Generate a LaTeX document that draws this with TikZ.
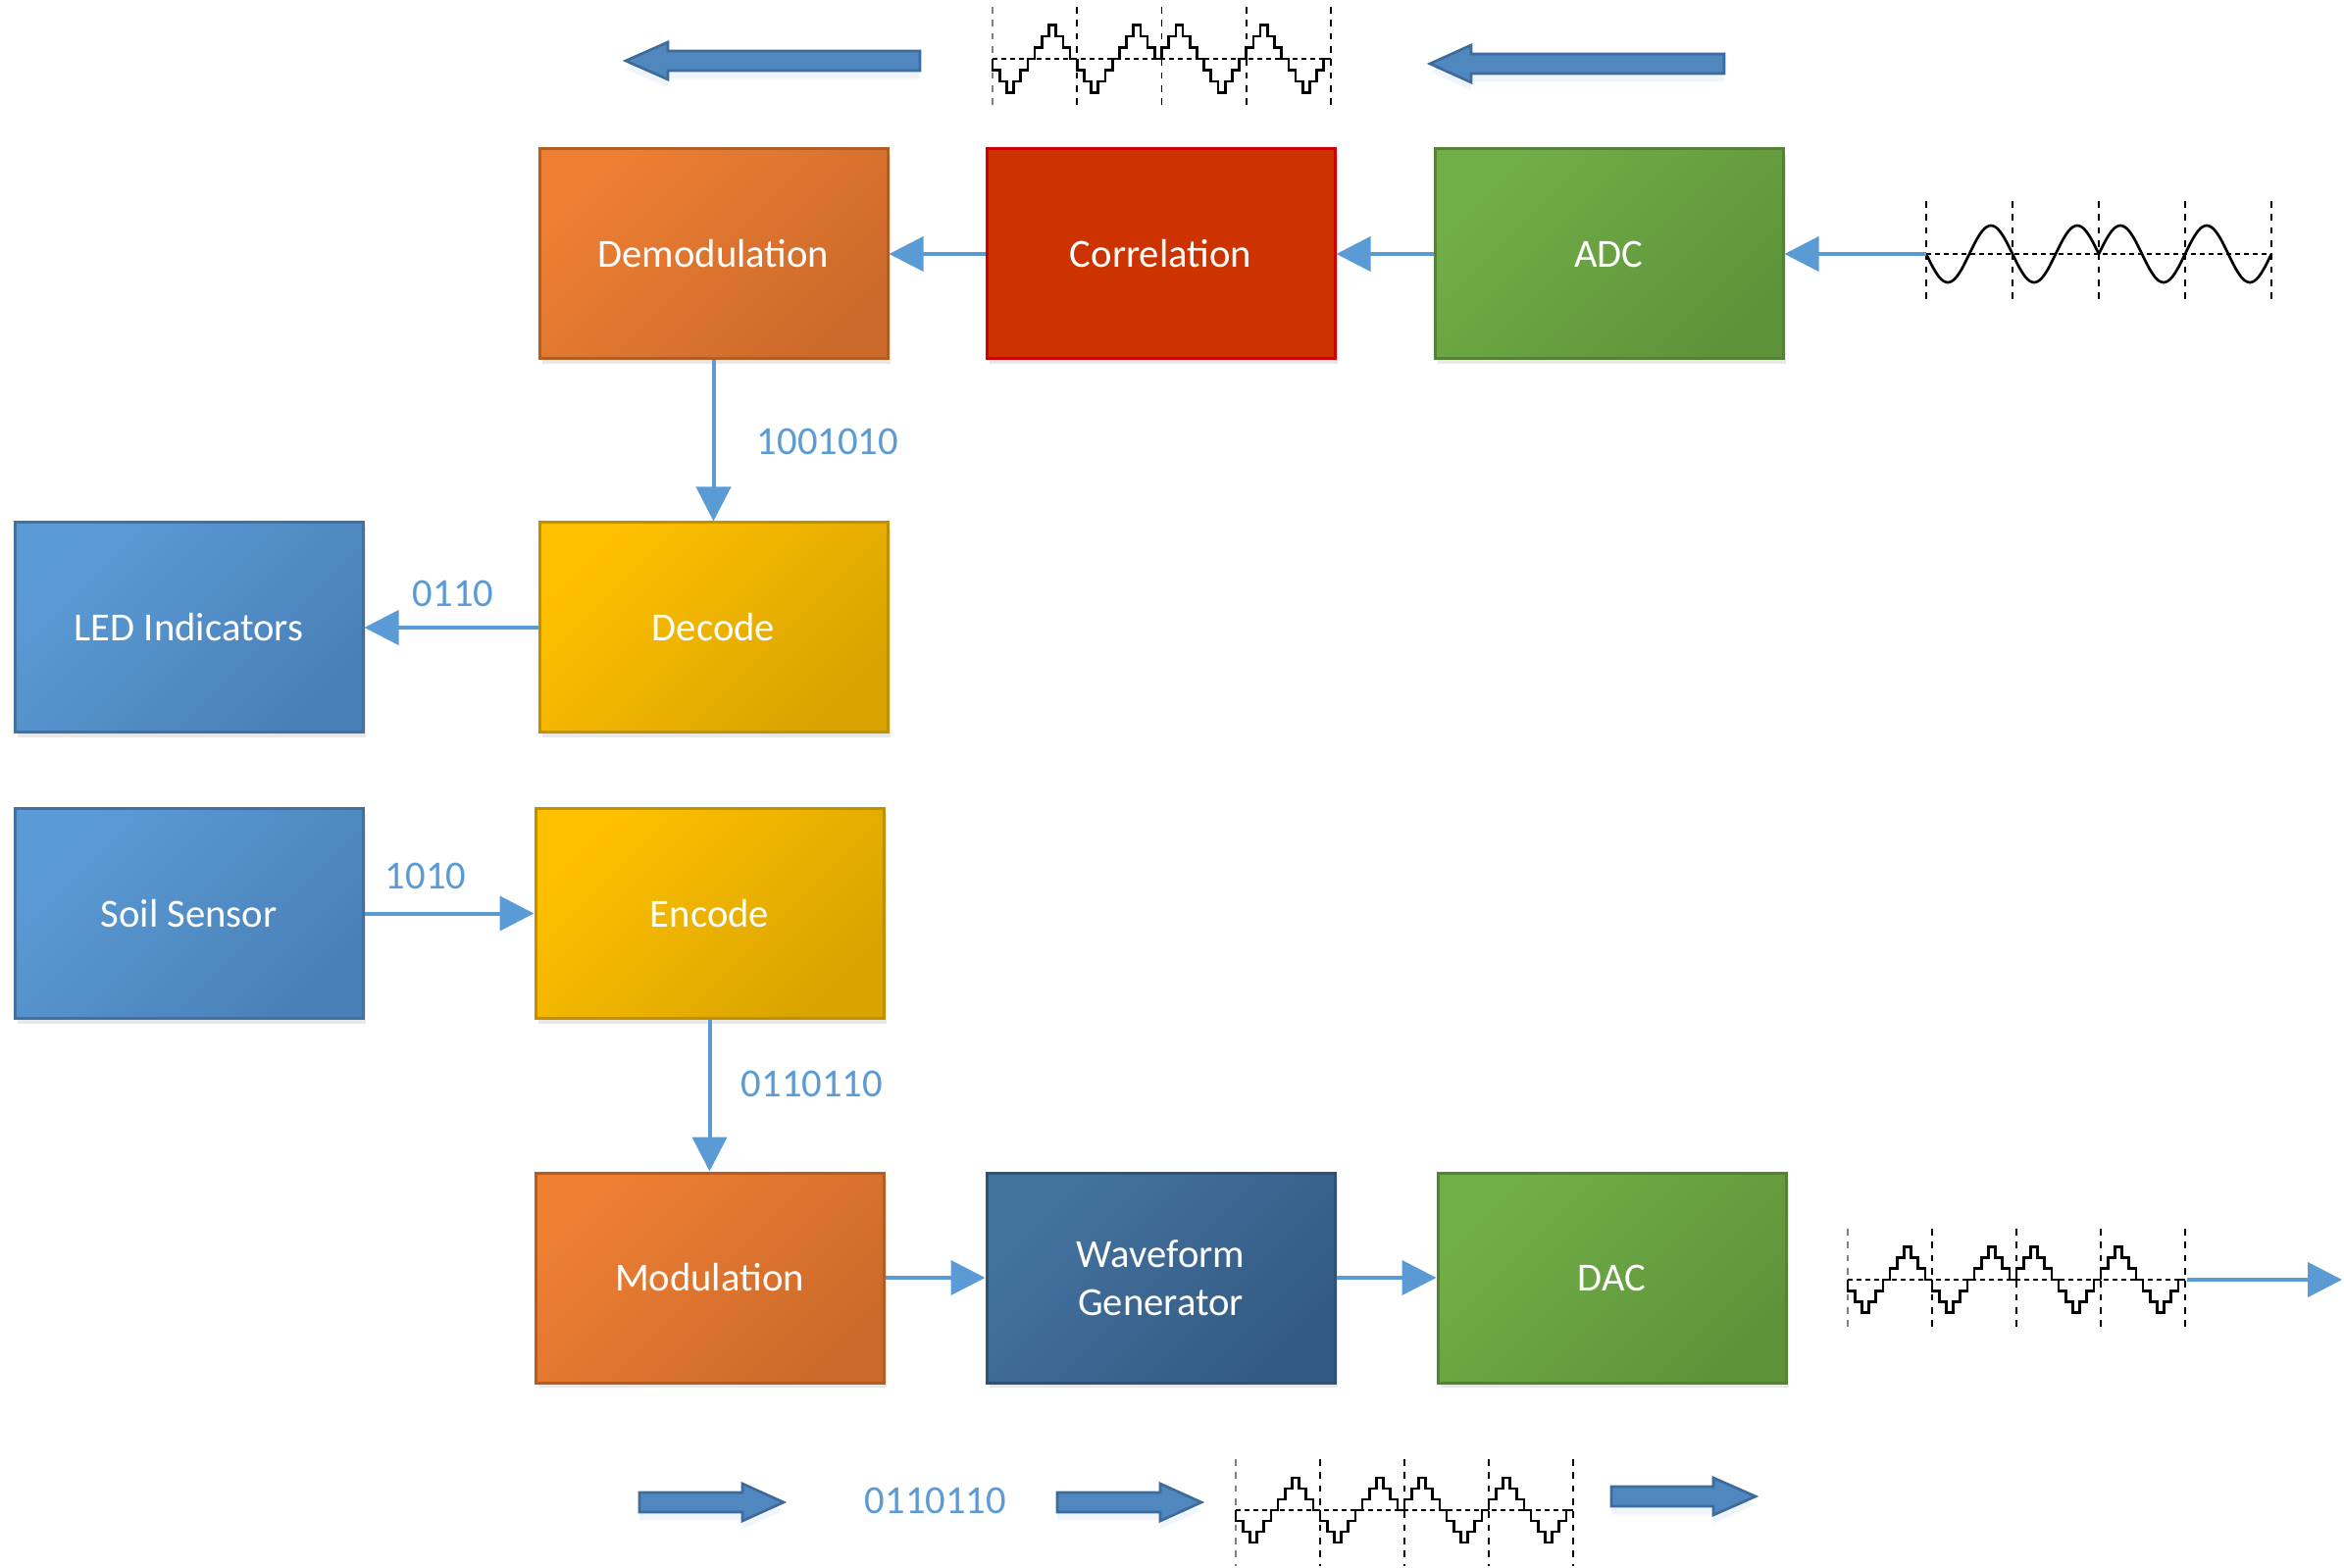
\documentclass[tikz,border=0pt]{standalone}
\usepackage{fontspec}
\setmainfont{Carlito}
\usetikzlibrary{arrows.meta,shadows}
\definecolor{orA}{HTML}{EE7F33}
\definecolor{orC}{HTML}{CC6A2B}
\definecolor{orD}{HTML}{B45D22}
\definecolor{rdF}{HTML}{CC3300}
\definecolor{rdD}{HTML}{D00000}
\definecolor{grA}{HTML}{72AE48}
\definecolor{grC}{HTML}{5E9439}
\definecolor{grD}{HTML}{548235}
\definecolor{gdA}{HTML}{FFC000}
\definecolor{gdC}{HTML}{D9A400}
\definecolor{gdD}{HTML}{BF9000}
\definecolor{blA}{HTML}{5B9BD5}
\definecolor{blC}{HTML}{4A80B8}
\definecolor{blD}{HTML}{41719C}
\definecolor{dbA}{HTML}{4473A0}
\definecolor{dbC}{HTML}{335A82}
\definecolor{dbD}{HTML}{2F5276}
\definecolor{lblue}{HTML}{5B9BD5}
\definecolor{fatF}{HTML}{4F87BE}
\definecolor{fatD}{HTML}{3D6B9B}
\newcommand{\stepwave}[6]{%
  \draw[vdash, gray] (#1,#5) -- (#1,#6);
  \foreach \k in {1,...,4} \draw[vdash] ({#1+\k*#3},#5) -- ({#1+\k*#3},#6);
  \draw[hdash] (#1,#2) -- ({#1+4*#3},#2);
  \foreach \s [count=\j from 0] in {-1,-1,1,1}
    \draw[wave] ({#1+\j*#3},#2) foreach \v [count=\i] in {1,2,3,2,1,0,-1,-2,-3,-2,-1,0} { -- ({#1+\j*#3+(\i-1)*#3/12},{#2-\s*\v*#4}) -- ({#1+\j*#3+\i*#3/12},{#2-\s*\v*#4}) };
}
\newcommand{\sinewave}[6]{%
  \foreach \k in {0,...,4} \draw[vdash] ({#1+\k*#3},#5) -- ({#1+\k*#3},#6);
  \draw[hdash] (#1,#2) -- ({#1+4*#3},#2);
  \foreach \s [count=\j from 0] in {-1,-1,1,1}
    \draw[wave] plot[domain=0:1,samples=41,smooth] ({#1+(\j+\x)*#3},{#2-\s*#4*sin(360*\x)});
}
\newcommand{\fatarrow}[4]{%
  \draw[fat] (#1,{#4-10}) -- (#2,{#4-10}) -- (#2,{#4-19}) -- (#3,#4) -- (#2,{#4+19}) -- (#2,{#4+10}) -- (#1,{#4+10}) -- cycle;
}
\begin{document}
\begin{tikzpicture}[x=0.3pt,y=-0.3pt,
  box/.style={line width=0.9pt, minimum width=106.5pt, minimum height=64.2pt, inner sep=0pt,
    text=white, font=\fontsize{12.2}{14.7}\selectfont, align=center,
    drop shadow={opacity=0.18,shadow xshift=1pt,shadow yshift=-1.5pt}},
  grad/.style n args={3}{box, draw=#1, top color=#2, bottom color=#3, shading angle=45},
  orangebox/.style={grad={orD}{orA}{orC}},
  redbox/.style={box, draw=rdD, fill=rdF},
  greenbox/.style={grad={grD}{grA}{grC}},
  goldbox/.style={grad={gdD}{gdA}{gdC}},
  bluebox/.style={grad={blD}{blA}{blC}},
  darkbox/.style={grad={dbD}{dbA}{dbC}},
  conn/.style={draw=lblue, line width=1.2pt, -{Triangle[length=10.5pt,width=10.5pt]}},
  lbl/.style={text=lblue, font=\fontsize{12.2}{14.7}\selectfont, inner sep=0pt},
  vdash/.style={line width=0.5pt, dash pattern=on 2pt off 2pt},
  hdash/.style={line width=0.5pt, dash pattern=on 1.5pt off 1.2pt},
  wave/.style={line width=0.8pt, line join=miter},
  fat/.style={fill=fatF, draw=fatD, line width=0.8pt, line join=miter,
    drop shadow={opacity=0.2, fill=lblue!50, shadow xshift=0pt, shadow yshift=-2.5pt}}
]
\useasboundingbox (0,0) rectangle (2390,1599);

% boxes
\node[orangebox] (demod) at (727.5,259) {Demodulation};
\node[redbox] (corr) at (1183.5,259) {Correlation};
\node[greenbox] (adc) at (1640.5,259) {ADC};
\node[goldbox] (decode) at (727.5,640) {Decode};
\node[bluebox] (led) at (192.5,640) {LED Indicators};
\node[bluebox] (soil) at (192.5,931.5) {Soil Sensor};
\node[goldbox] (encode) at (723.5,931.5) {Encode};
\node[orangebox] (mod) at (723.5,1303) {Modulation};
\node[darkbox] (wg) at (1183.5,1303) {Waveform\\Generator};
\node[greenbox] (dac) at (1643.5,1303) {DAC};

% waveforms
\stepwave{1012}{60}{86.25}{11.5}{7}{112}
\sinewave{1964}{259}{88}{29}{205}{310}
\stepwave{1884}{1305}{86}{11.2}{1253}{1357}
\stepwave{1260}{1540}{86}{11}{1488}{1597}

\coordinate (adcin) at (1964,259);
\coordinate (dacout) at (2230,1305);
\coordinate (outend) at (2388,1305);

% connectors
\draw[conn] (adcin) -- (adc);
\draw[conn] (adc) -- (corr);
\draw[conn] (corr) -- (demod);
\draw[conn] (demod) -- (decode);
\draw[conn] (decode) -- (led);
\draw[conn] (soil) -- (encode);
\draw[conn] (encode) -- (mod);
\draw[conn] (mod) -- (wg);
\draw[conn] (wg) -- (dac);
\draw[conn] (dacout) -- (outend);

% labels
\node[lbl] (l1) at (844,450) {1001010};
\node[lbl] (l2) at (462,605) {0110};
\node[lbl] (l3) at (434,893) {1010};
\node[lbl] (l4) at (828,1105) {0110110};
\node[lbl] (l5) at (954,1530) {0110110};

% fat arrows
\fatarrow{938}{681}{638}{62}
\fatarrow{1758}{1500}{1458}{65}
\fatarrow{652}{757}{799}{1532}
\fatarrow{1078}{1183}{1225}{1532}
\fatarrow{1643}{1747}{1790}{1526}
\end{tikzpicture}
\end{document}
